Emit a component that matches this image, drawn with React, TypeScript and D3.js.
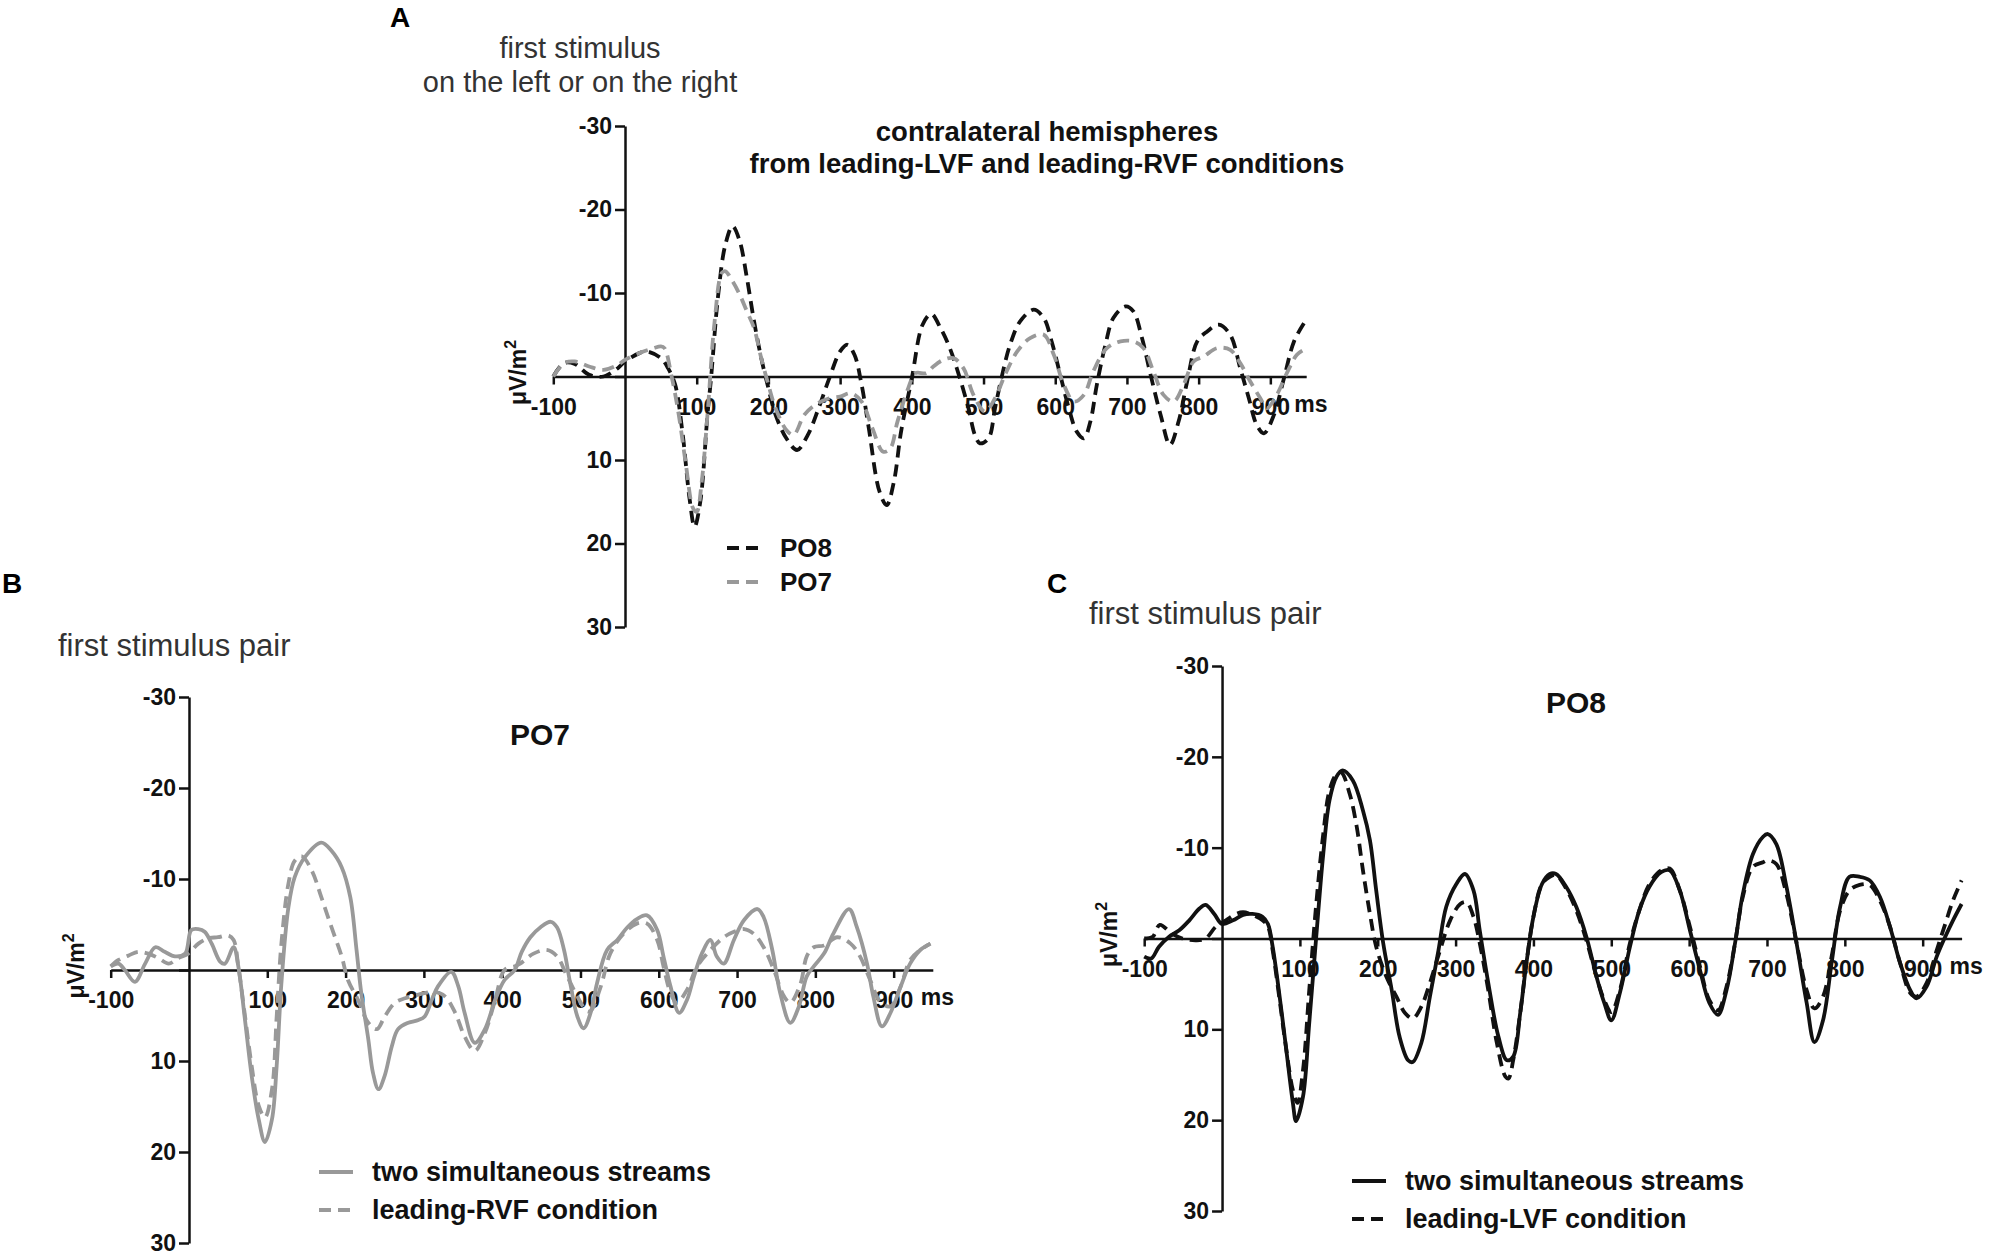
import React, { useRef, useEffect } from "react";
import * as d3 from "d3";

// [ms, µV/m²] (negative is up)
const contraPO8 = [[-100,0],[-85,-1.6],[-70,-1.5],[-50,-0.2],[-30,0],[-10,-1],[0,-1.8],[20,-2.8],[30,-3],[50,-2.2],[60,-1],[70,1],[80,6.6],[90,14.6],[97,18],[105,15],[115,4.6],[120,0.2],[130,-9.8],[140,-15.8],[150,-18],[160,-16.2],[170,-11.8],[180,-6.6],[190,-2.2],[200,1.4],[210,4.6],[225,7.4],[240,8.8],[255,7],[270,3.8],[285,0.2],[300,-3],[310,-3.8],[320,-2.6],[330,1],[340,6.2],[355,13.8],[365,15.4],[375,12.6],[385,6.6],[400,0.2],[415,-6.2],[427,-7.5],[440,-5.8],[453,-3.4],[467,0.2],[479,3.8],[488,7],[495,8],[507,7.4],[516,3.8],[526,-0.2],[537,-3.8],[551,-6.6],[570,-8],[584,-7],[595,-4.2],[607,-0.2],[619,3.8],[630,6.6],[640,7.4],[649,5.4],[658,1],[670,-3.8],[681,-7],[698,-8.4],[709,-7.8],[721,-4.6],[733,-0.2],[747,4.6],[760,8.2],[772,5.4],[784,0.6],[798,-4.2],[812,-5.4],[828,-6.2],[844,-5],[858,-1],[870,2.6],[881,5.8],[891,6.8],[905,4.6],[919,0.2],[933,-4.2],[947,-6.4]];
const contraPO7 = [[-100,0],[-85,-1.6],[-70,-1.8],[-50,-1.2],[-30,-0.8],[-10,-1.4],[0,-2],[20,-2.8],[40,-3.4],[50,-3.6],[55,-3.4],[65,0],[75,4.6],[85,10.6],[95,15.8],[100,16.2],[107,12.6],[115,4.6],[125,-6.6],[135,-12.4],[140,-12.6],[150,-11.4],[160,-9.8],[170,-7.8],[180,-5.8],[190,-2.2],[200,1],[210,3.8],[225,6.4],[235,7],[250,4.6],[265,3.4],[285,2.6],[300,2.4],[315,2],[330,3],[345,6.2],[360,9],[370,8.6],[380,5.4],[395,1.4],[405,-0.4],[420,-0.4],[430,-1.2],[444,-2],[458,-2.2],[472,-1],[486,2.2],[502,4.2],[516,2.6],[530,-0.2],[547,-3],[565,-4.6],[584,-5],[598,-2.6],[612,1],[626,3],[640,2.2],[653,-0.6],[672,-3.4],[691,-4.2],[709,-4.2],[723,-3.4],[737,-0.6],[751,2.2],[765,3],[779,1],[793,-1.8],[807,-2.4],[826,-3.4],[844,-3.2],[858,-1.6],[872,0.6],[886,2.6],[895,3.8],[909,2.2],[923,-0.4],[937,-2.6],[947,-3.2]];

const po7Simultaneous = [[-100,-0.4],[-90,-0.7],[-82,0],[-69,1.3],[-56,-0.7],[-43,-2.5],[-31,-2],[-18,-1.5],[-5,-1.8],[3,-4.4],[12,-4.5],[20,-4.2],[29,-2.9],[40,-0.9],[46,-0.7],[57,-2.5],[63,-0.4],[71,5.1],[80,11.6],[89,16.4],[97,18.9],[106,16.4],[112,10.5],[118,1.5],[127,-6.9],[135,-10.2],[148,-12.4],[169,-14],[182,-13.1],[195,-11.3],[206,-8],[214,-2.2],[220,2.5],[229,7.6],[235,11.3],[242,13.1],[250,11.6],[259,8.4],[267,6.5],[280,5.8],[293,5.5],[301,5.1],[310,3.3],[318,1.8],[335,0.2],[344,1.8],[352,4.7],[365,8],[378,6.5],[391,3.3],[403,1.1],[416,0],[425,-2],[436,-3.6],[449,-4.7],[462,-5.3],[470,-4.7],[479,-2.2],[487,1.5],[496,5.1],[504,6.4],[513,4.7],[521,1.5],[534,-2.2],[547,-3.3],[560,-4.7],[572,-5.6],[585,-6],[598,-4.4],[606,-1.5],[615,1.8],[626,4.7],[636,3.3],[645,0.7],[655,-1.8],[666,-3.3],[674,-1.5],[683,-0.7],[696,-3.3],[709,-5.5],[726,-6.7],[734,-5.8],[745,-2.2],[755,2.5],[768,5.8],[779,4],[789,0.7],[798,-0.4],[811,-1.8],[823,-4],[843,-6.7],[853,-4.7],[866,-0.7],[874,2.9],[885,6.2],[896,4.7],[909,1.8],[921,-0.7],[934,-2.2],[947,-2.9]];
const po7LeadingRVF = [[-100,-0.4],[-90,-1.1],[-77,-1.6],[-65,-2],[-52,-1.8],[-39,-1.3],[-26,-0.7],[-14,-1.3],[-1,-1.8],[12,-2.9],[25,-3.5],[37,-3.6],[50,-3.8],[57,-3.3],[63,-0.4],[71,4.7],[80,10.5],[89,14.9],[97,16.2],[106,13.1],[112,5.1],[118,-2.9],[127,-9.5],[135,-12],[144,-12.5],[157,-10.9],[169,-8],[182,-4.7],[195,-1.5],[203,1.1],[216,3.3],[229,5.8],[240,6.5],[250,5.1],[263,3.6],[276,3.1],[293,2.7],[314,2.4],[327,2.9],[340,4.7],[352,7.3],[365,8.9],[378,6.9],[391,3.3],[403,0],[416,-0.4],[423,-0.7],[440,-1.8],[457,-2.2],[470,-1.5],[483,0.7],[496,2.9],[508,4.5],[513,4.5],[526,1.8],[538,-1.8],[555,-4],[572,-5.1],[585,-5.1],[598,-3.3],[606,-0.4],[615,2.5],[623,3.6],[636,2.2],[649,-0.4],[666,-2.2],[683,-3.6],[696,-4.2],[709,-4.5],[721,-4],[734,-2.5],[747,0],[760,2.9],[768,3.6],[781,1.5],[789,-1.5],[798,-2.5],[811,-2.7],[828,-3.6],[845,-2.9],[857,-1.5],[870,1.1],[883,3.5],[896,4],[909,1.8],[921,-1.1],[934,-2.2],[947,-2.9]];

const po8Simultaneous = [[-100,2],[-91,2.2],[-81,0.9],[-68,-0.2],[-55,-0.9],[-42,-2],[-29,-3.3],[-21,-3.7],[-10,-2.7],[0,-1.6],[14,-2],[27,-2.6],[39,-2.7],[52,-2.4],[59,-1.6],[65,0.9],[74,6.4],[82,11.9],[91,18.1],[95,20.1],[104,17.4],[112,9.3],[121,-0.2],[130,-9.3],[138,-15.2],[147,-17.8],[155,-18.5],[168,-17.4],[181,-14.1],[190,-10.8],[198,-5.3],[207,0.5],[218,5.7],[228,10.8],[239,13.4],[245,13.6],[256,11.5],[267,6.4],[278,1.3],[288,-3.5],[301,-6],[312,-7.1],[323,-5.3],[331,-0.9],[342,4.9],[355,10.8],[366,13.4],[374,13],[383,8.2],[391,2.7],[400,-2.4],[411,-6],[421,-7.1],[429,-7.1],[442,-5.7],[455,-3.5],[468,-0.2],[481,4.2],[491,7.1],[500,9],[511,6],[524,0.9],[536,-3.1],[549,-5.7],[564,-7.3],[575,-7.5],[588,-5.3],[601,-0.9],[614,3.5],[626,7.1],[637,8.4],[648,5.7],[659,0.5],[669,-4.9],[682,-9.3],[695,-11.2],[701,-11.5],[712,-10.4],[725,-5.7],[738,0.5],[751,7.1],[761,11.4],[772,9],[783,2.7],[794,-3.5],[806,-6.8],[819,-6.8],[832,-6.4],[845,-4.6],[858,-1.3],[871,2.7],[884,5.7],[892,6.6],[905,5.3],[918,2],[929,-0.2],[939,-2],[950,-3.8]];
const po8LeadingLVF = [[-100,0],[-89,-0.2],[-80,-1.5],[-64,-0.5],[-51,0],[-33,0.2],[-21,0],[-8,-1.3],[5,-2],[18,-2.7],[27,-2.9],[39,-2.6],[52,-2],[59,-1.3],[65,1.3],[74,6.8],[82,11.9],[91,16.7],[97,18.1],[104,14.5],[112,5.7],[121,-3.8],[130,-11.5],[138,-16.3],[147,-18.1],[153,-18.3],[164,-15.9],[173,-12.3],[181,-7.5],[190,-2.7],[198,0.9],[211,4.2],[224,6.4],[235,8.2],[245,8.8],[256,7.5],[267,4.9],[280,1.3],[293,-2],[306,-3.8],[314,-4],[323,-2.4],[331,0.5],[342,5.7],[353,11.5],[364,15.2],[368,15.4],[374,13.4],[383,8.2],[391,2.7],[400,-2.4],[411,-6],[421,-6.8],[429,-7],[442,-5.5],[455,-3.1],[468,0.2],[481,4.2],[491,6.8],[500,8.1],[511,5.7],[524,0.5],[536,-3.1],[549,-6],[564,-7.5],[575,-7.7],[588,-5.3],[601,-1.3],[614,3.1],[626,6.8],[637,7.9],[648,5.3],[659,0.5],[669,-4.6],[682,-7.9],[695,-8.4],[701,-8.6],[712,-8.2],[725,-4.9],[738,0.5],[751,5.7],[761,7.7],[772,6.4],[783,2],[794,-3.1],[806,-5.3],[819,-5.9],[832,-5.9],[845,-4.2],[858,-1.3],[871,2.7],[884,6],[892,6.4],[905,4.9],[918,1.3],[929,-1.6],[939,-4.2],[950,-6.4]];

const xTicks = [-100, 100, 200, 300, 400, 500, 600, 700, 800, 900];
const yTicks = [-30, -20, -10, 0, 10, 20, 30];
const xDomain = [-100, 950];
const yDomain = [-30, 30];

const FONT = "'Liberation Sans', Arial, Helvetica, sans-serif";

const panels = [
  {
    letter: "A", letterPos: [390, 27],
    note: ["first stimulus", "on the left or on the right"], notePos: [580, 58], noteAnchor: "middle", noteSize: 29,
    title: ["contralateral hemispheres", "from leading-LVF and leading-RVF conditions"], titlePos: [1047, 141], titleSize: 27.5, titleGap: 32,
    xRange: [553.3, 1306.2], yRange: [126, 627],
    series: [
      { name: "PO8", data: contraPO8, color: "#111", dash: "12,7" },
      { name: "PO7", data: contraPO7, color: "#999", dash: "12,7" },
    ],
    legendPos: [727, 548], legendGap: 34, legendSize: 26,
  },
  {
    letter: "B", letterPos: [2, 593],
    note: ["first stimulus pair"], notePos: [58, 656], noteAnchor: "start", noteSize: 31,
    title: ["PO7"], titlePos: [540, 745], titleSize: 30, titleGap: 0,
    xRange: [110.7, 932.8], yRange: [697, 1243],
    series: [
      { name: "two simultaneous streams", data: po7Simultaneous, color: "#999", dash: null },
      { name: "leading-RVF condition", data: po7LeadingRVF, color: "#999", dash: "12,7" },
    ],
    legendPos: [319, 1172], legendGap: 38, legendSize: 27,
  },
  {
    letter: "C", letterPos: [1047, 593],
    note: ["first stimulus pair"], notePos: [1089, 624], noteAnchor: "start", noteSize: 31,
    title: ["PO8"], titlePos: [1576, 713], titleSize: 30, titleGap: 0,
    xRange: [1144.2, 1961.6], yRange: [666, 1211],
    series: [
      { name: "two simultaneous streams", data: po8Simultaneous, color: "#111", dash: null },
      { name: "leading-LVF condition", data: po8LeadingLVF, color: "#111", dash: "12,7" },
    ],
    legendPos: [1352, 1181], legendGap: 38, legendSize: 27,
  },
];

function drawPanel(svg, p) {
  const x = d3.scaleLinear().domain(xDomain).range(p.xRange);
  const y = d3.scaleLinear().domain(yDomain).range(p.yRange);
  const g = svg.append("g").attr("font-family", FONT);

  g.append("text").attr("x", p.letterPos[0]).attr("y", p.letterPos[1])
    .attr("font-size", 28).attr("font-weight", "bold").text(p.letter);

  p.note.forEach((t, i) => {
    g.append("text").attr("x", p.notePos[0]).attr("y", p.notePos[1] + i * 34)
      .attr("text-anchor", p.noteAnchor).attr("font-size", p.noteSize).attr("fill", "#333").text(t);
  });

  p.title.forEach((t, i) => {
    g.append("text").attr("x", p.titlePos[0]).attr("y", p.titlePos[1] + i * p.titleGap)
      .attr("text-anchor", "middle").attr("font-size", p.titleSize).attr("font-weight", "bold")
      .attr("fill", "#111").text(t);
  });

  // y axis at t = 0
  const yAxis = g.append("g")
    .attr("transform", `translate(${x(0)},0)`)
    .call(d3.axisLeft(y).tickValues(yTicks).tickSize(10).tickSizeOuter(0).tickPadding(3)
      .tickFormat(d => (d === 0 ? "" : String(d))));
  // x axis at 0 µV/m²
  const xAxis = g.append("g")
    .attr("transform", `translate(0,${y(0)})`)
    .call(d3.axisBottom(x).tickValues(xTicks).tickSize(8).tickSizeOuter(0).tickPadding(14)
      .tickFormat(d => String(d)));

  [yAxis, xAxis].forEach(a => {
    a.attr("font-family", FONT).attr("font-size", 23).attr("font-weight", "bold");
    a.selectAll("path,line").attr("stroke", "#111").attr("stroke-width", 2.5);
    a.selectAll("text").attr("fill", "#111");
  });

  g.append("text").attr("x", x(950) - 12).attr("y", y(0) + 35)
    .attr("font-size", 23).attr("font-weight", "bold").attr("fill", "#111").text("ms");

  const lab = g.append("text")
    .attr("transform", `translate(${x(-100) - 27},${y(0) - 4}) rotate(-90)`)
    .attr("text-anchor", "middle").attr("font-size", 23).attr("font-weight", "bold").attr("fill", "#111");
  lab.append("tspan").text("\u03bcV/m");
  lab.append("tspan").attr("font-size", 16).attr("dy", -10).text("2");

  const line = d3.line().x(d => x(d[0])).y(d => y(d[1])).curve(d3.curveCatmullRom.alpha(0.5));
  p.series.forEach(s => {
    g.append("path").datum(s.data).attr("d", line)
      .attr("fill", "none").attr("stroke", s.color).attr("stroke-width", 3.8)
      .attr("stroke-linejoin", "round")
      .attr("stroke-dasharray", s.dash);
  });

  p.series.forEach((s, i) => {
    const ly = p.legendPos[1] + i * p.legendGap;
    g.append("line").attr("x1", p.legendPos[0]).attr("x2", p.legendPos[0] + 34)
      .attr("y1", ly).attr("y2", ly)
      .attr("stroke", s.color).attr("stroke-width", 4).attr("stroke-dasharray", s.dash);
    g.append("text").attr("x", p.legendPos[0] + 53).attr("y", ly + 9)
      .attr("font-size", p.legendSize).attr("font-weight", "bold").attr("fill", "#111").text(s.name);
  });
}

export default function App() {
  const ref = useRef(null);

  useEffect(() => {
    const svg = d3.select(ref.current);
    svg.selectAll("*").remove();
    svg.append("rect").attr("width", 2000).attr("height", 1260).attr("fill", "#fff");
    panels.forEach(p => drawPanel(svg, p));
  }, []);

  return (
    <svg ref={ref} width={2000} height={1260}
      style={{ position: "absolute", left: 0, top: 0, display: "block" }} />
  );
}
